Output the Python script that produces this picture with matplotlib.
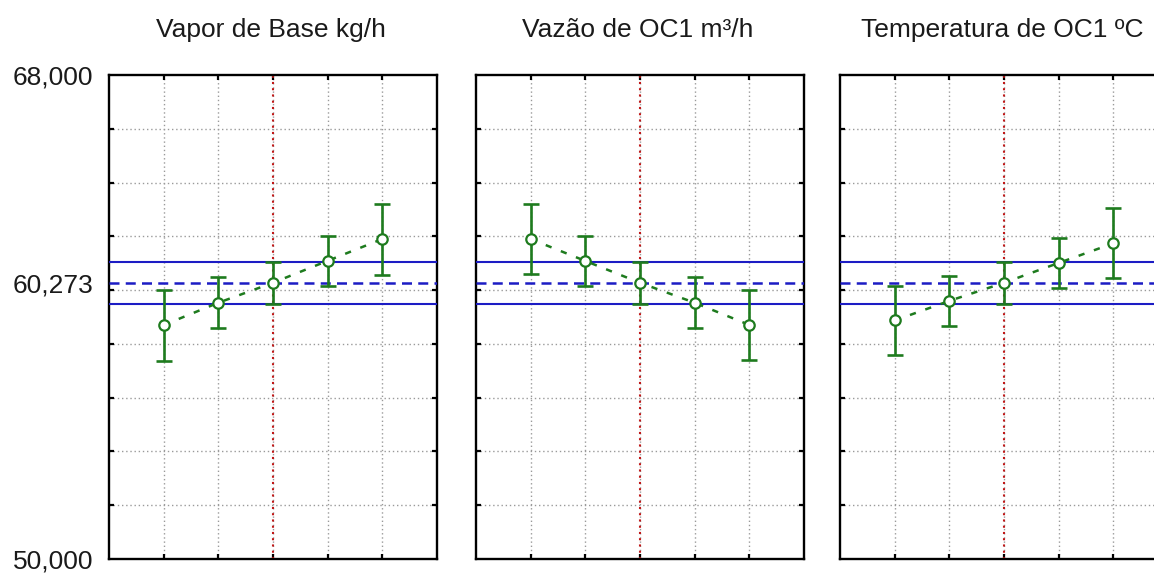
import matplotlib
matplotlib.use('Agg')
import matplotlib.pyplot as plt
import numpy as np

plt.rcParams['font.family'] = ['Liberation Sans', 'DejaVu Sans']

# níveis de cada fator e respostas previstas (média e meio-intervalo)
levels = [1, 2, 3, 4, 5]
titles = ['Vapor de Base kg/h', 'Vazão de OC1 m³/h', 'Temperatura de OC1 ºC']
vapor_mean = [58700, 59530, 60273, 61090, 61900]
vapor_err = [1320, 940, 780, 940, 1320]
vazao_mean = [61900, 61085, 60273, 59530, 58705]
vazao_err = [1310, 940, 780, 940, 1310]
temp_mean = [58870, 59600, 60273, 61010, 61740]
temp_err = [1300, 930, 780, 935, 1300]

resp_mean = 60273
resp_low = 59493
resp_high = 61053
y_min, y_max = 50000, 68000
y_labels = [50000, 60273, 68000]

green = '#1e7b1e'
blue = '#1c1cc4'

fig = plt.figure(figsize=(11.54, 5.73), dpi=100)
W, H = 1154, 573
lefts = [109, 476, 840]
series = [(vapor_mean, vapor_err), (vazao_mean, vazao_err), (temp_mean, temp_err)]

for i, (left, (m, e)) in enumerate(zip(lefts, series)):
    ax = fig.add_axes([left / W, (H - 559) / H, 328 / W, 484 / H])
    ax.set_xlim(0, 6)
    ax.set_ylim(y_min, y_max)

    # grade pontilhada
    for x in levels:
        ax.axvline(x, color='#9a9a9a', ls=(0, (1, 2)), lw=1.0, zorder=1)
    for y in range(y_min + 2000, y_max, 2000):
        ax.axhline(y, color='#9a9a9a', ls=(0, (1, 2)), lw=1.0, zorder=1)
    ax.axvline(3, color='#c01818', ls=(0, (1, 2)), lw=1.5, zorder=2)

    # média e limites
    ax.axhline(resp_mean, color=blue, ls=(0, (4, 2.5)), lw=1.8, zorder=3)
    ax.axhline(resp_low, color=blue, lw=1.5, zorder=3)
    ax.axhline(resp_high, color=blue, lw=1.5, zorder=3)

    ax.plot(levels, m, color=green, ls=(0, (2.5, 4)), lw=1.8, zorder=4)
    ax.errorbar(levels, m, yerr=e, fmt='none', ecolor=green, elinewidth=1.9,
                capsize=5.5, capthick=1.9, zorder=5)
    ax.plot(levels, m, 'o', ms=7.5, mfc='white', mec=green, mew=1.6, ls='none', zorder=6)

    ax.set_xticks(levels)
    ax.set_xticklabels([])
    ax.set_yticks(range(y_min + 2000, y_max, 2000), minor=True)
    ax.set_yticks(y_labels)
    if i == 0:
        ax.set_yticklabels([f'{v:,}' for v in y_labels], fontsize=19, color='#1a1a1a')
    else:
        ax.set_yticklabels([])
    ax.tick_params(axis='both', which='both', direction='in', top=True, right=True,
                   length=3.5, width=1.6, color='black')
    ax.tick_params(axis='y', which='major', length=0, pad=11.5)
    for s in ax.spines.values():
        s.set_linewidth(1.7)
        s.set_color('black')

    fig.text((left + 162) / W, 1 - 37 / H, titles[i], ha='center', va='baseline',
             fontsize=19, color='#1a1a1a')

fig.savefig('out.png', dpi=100)
